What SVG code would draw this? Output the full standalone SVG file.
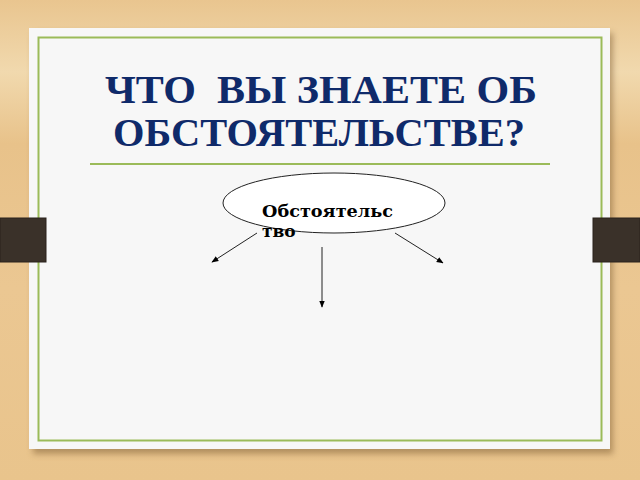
<svg xmlns="http://www.w3.org/2000/svg" width="640" height="480" viewBox="0 0 640 480">
<defs>
<linearGradient id="wood" x1="0" y1="0" x2="0" y2="1">
<stop offset="0" stop-color="#E9C58F"/>
<stop offset="0.15" stop-color="#F1D9AE"/>
<stop offset="0.3" stop-color="#E8C28A"/>
<stop offset="0.6" stop-color="#EBC792"/>
<stop offset="1" stop-color="#E9C48C"/>
</linearGradient>
<filter id="sh" x="-5%" y="-5%" width="110%" height="110%">
<feGaussianBlur stdDeviation="3"/>
</filter>
<marker id="ah" viewBox="0 0 10 10" refX="9" refY="5" markerWidth="7" markerHeight="7" orient="auto" markerUnits="userSpaceOnUse">
<path d="M0,1 L10,5 L0,9 Z" fill="#000"/>
</marker>
<style>
.title{font-family:"Liberation Serif","DejaVu Serif",serif;font-weight:bold;font-size:41px;fill:#0F2A6A;white-space:pre}
.lbl{font-family:"DejaVu Serif","Liberation Serif",serif;font-weight:bold;font-size:17px;fill:#000}
.tab{fill:#3A3129;stroke:#2A221C;stroke-width:1}
.con{stroke:#222;stroke-width:1;fill:none;marker-end:url(#ah)}
</style>
</defs>
<rect width="640" height="480" fill="url(#wood)"/>
<rect x="33" y="33" width="580" height="421" fill="#7A5A30" opacity="0.5" filter="url(#sh)"/>
<rect x="29" y="28" width="581" height="421" fill="#F7F7F7"/>
<rect x="38.5" y="37.5" width="563" height="403" fill="none" stroke="#9BBB59" stroke-width="2"/>
<g id="tab-left"><rect class="tab" x="0" y="218" width="46" height="44"/></g>
<g id="tab-right"><rect class="tab" x="593" y="218" width="47" height="44"/></g>
<g id="title">
<text class="title" x="105" y="103" textLength="432" lengthAdjust="spacingAndGlyphs" xml:space="preserve">ЧТО  ВЫ ЗНАЕТЕ ОБ</text>
<text class="title" x="113" y="146" textLength="412" lengthAdjust="spacingAndGlyphs">ОБСТОЯТЕЛЬСТВЕ?</text>
</g>
<line x1="90" y1="164" x2="550" y2="164" stroke="#9BBB59" stroke-width="2"/>
<g id="node-center">
<ellipse cx="334" cy="203" rx="111" ry="30" fill="#FFFFFF" stroke="#222" stroke-width="1"/>
<text class="lbl" x="262" y="217" textLength="131" lengthAdjust="spacingAndGlyphs">Обстоятельс</text>
<text class="lbl" x="262" y="237">тво</text>
</g>
<g id="connectors">
<line class="con" x1="257" y1="233" x2="212" y2="262"/>
<line class="con" x1="322" y1="247" x2="322" y2="307"/>
<line class="con" x1="395" y1="233" x2="443" y2="263"/>
</g>
</svg>
